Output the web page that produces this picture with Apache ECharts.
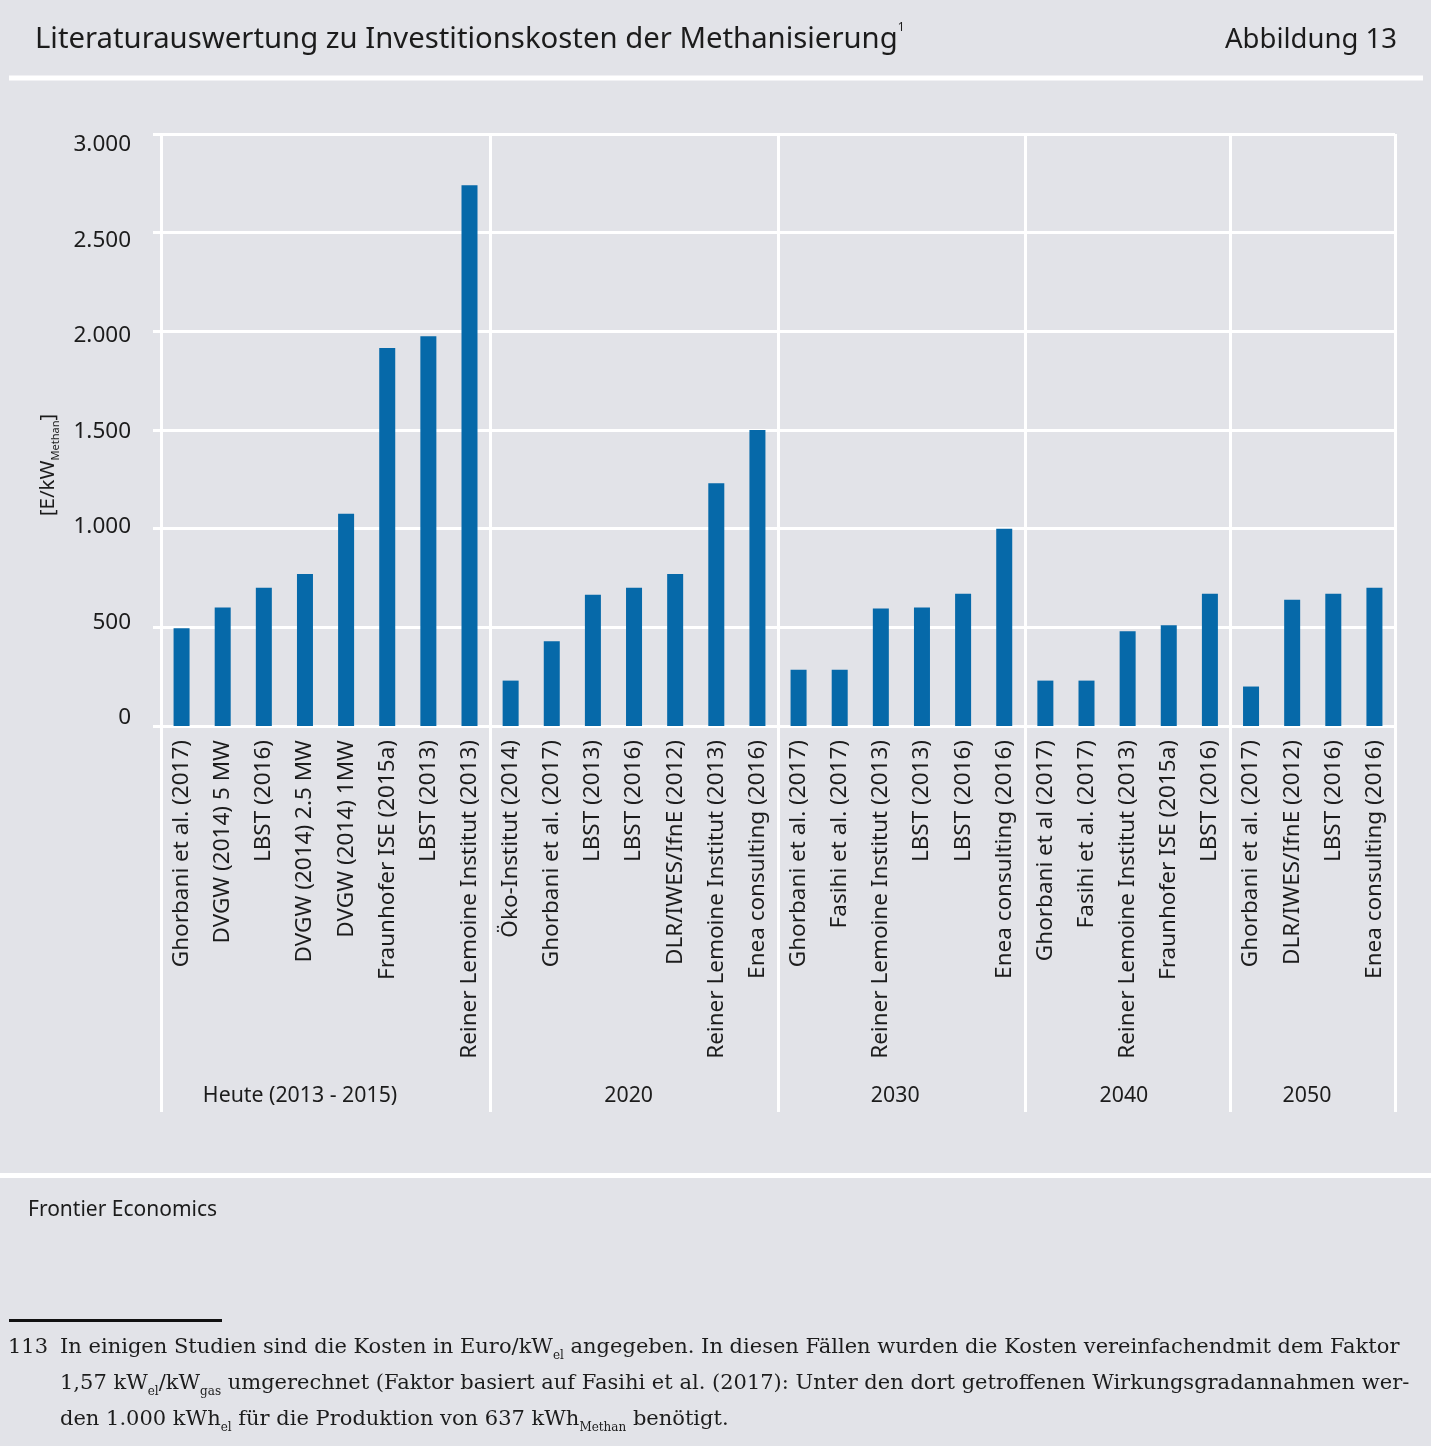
<!DOCTYPE html>
<html><head><meta charset="utf-8">
<script src="https://cdn.jsdelivr.net/npm/echarts@6/dist/echarts.min.js"></script>
<style>html,body{margin:0;padding:0;background:#e2e3e8}#c{width:1431px;height:1446px}</style>
</head><body><div id="c"></div>
<script>
// ---- data ----
const categories = [
  'Ghorbani et al. (2017)','DVGW (2014) 5 MW','LBST (2016)','DVGW (2014) 2.5 MW','DVGW (2014) 1MW','Fraunhofer ISE (2015a)','LBST (2013)','Reiner Lemoine Institut (2013)',
  'Öko-Institut (2014)','Ghorbani et al. (2017)','LBST (2013)','LBST (2016)','DLR/IWES/IfnE (2012)','Reiner Lemoine Institut (2013)','Enea consulting (2016)',
  'Ghorbani et al. (2017)','Fasihi et al. (2017)','Reiner Lemoine Institut (2013)','LBST (2013)','LBST (2016)','Enea consulting (2016)',
  'Ghorbani et al (2017)','Fasihi et al. (2017)','Reiner Lemoine Institut (2013)','Fraunhofer ISE (2015a)','LBST (2016)',
  'Ghorbani et al. (2017)','DLR/IWES/IfnE (2012)','LBST (2016)','Enea consulting (2016)'
];
const values = [
  495, 600, 700, 770, 1075, 1915, 1975, 2740,
  230, 430, 665, 700, 770, 1230, 1500,
  285, 285, 595, 600, 670, 1000,
  230, 230, 480, 510, 670,
  200, 640, 670, 700
];
const groupNames = ['Heute (2013 - 2015)', '2020', '2030', '2040', '2050'];
const groupSizes = [8, 7, 6, 5, 4];
const yTickValues = [0, 500, 1000, 1500, 2000, 2500, 3000];

// ---- derived ----
const boundaries = [0];
groupSizes.forEach(s => boundaries.push(boundaries[boundaries.length - 1] + s));
const nCat = categories.length;
const groupLabelNudge = [-0.62, -0.13, -0.15, -0.09, -0.14];
const groupLabelPos = groupSizes.map((s, i) => (boundaries[i] + boundaries[i + 1]) / 2 + groupLabelNudge[i]);

const FONT = "'Noto Sans', 'Open Sans', sans-serif";
const SERIF = "'DejaVu Serif', 'Liberation Serif', serif";
const TXT = '#1c1c1c';
const BG = '#e2e3e8';
const fmt = v => String(v).replace(/\B(?=(\d{3})+(?!\d))/g, '.');

const chart = echarts.init(document.getElementById('c'), null, {renderer: 'canvas'});
chart.setOption({
  backgroundColor: BG,
  animation: false,
  grid: {left: 161, right: 36, top: 134, bottom: 720, containLabel: false},
  xAxis: [
    {
      type: 'category', data: categories, gridIndex: 0,
      axisLine: {show: false}, axisTick: {show: false},
      axisLabel: {rotate: 90, interval: 0, margin: 14, fontSize: 22.5, fontFamily: FONT, color: TXT}
    },
    {
      type: 'value', min: 0, max: nCat, gridIndex: 0, position: 'bottom',
      axisLine: {show: false},
      axisTick: {show: true, customValues: boundaries, length: 394, inside: false, lineStyle: {color: '#fff', width: 3}},
      splitLine: {show: true, lineStyle: {color: '#fff', width: 3}},
      axisLabel: {
        customValues: groupLabelPos, margin: 359, fontSize: 21.3, fontFamily: FONT, color: TXT,
        formatter: v => { let k = 0, d = 1e9; groupLabelPos.forEach((p, i) => { if (Math.abs(p - v) < d) { d = Math.abs(p - v); k = i; } }); return groupNames[k]; }
      }
    }
  ],
  yAxis: [
    {
      type: 'value', min: 0, max: 3000, interval: 500,
      axisLine: {show: false},
      axisTick: {show: true, length: 8, lineStyle: {color: '#fff', width: 3}},
      axisLabel: {show: false},
      splitLine: {show: true, lineStyle: {color: '#fff', width: 3}}
    },
    {
      type: 'value', min: -41.8, max: 3055, position: 'left',
      axisLine: {show: false}, axisTick: {show: false}, splitLine: {show: false},
      axisLabel: {customValues: yTickValues, margin: 30, fontSize: 22.5, fontFamily: FONT, color: TXT, formatter: v => fmt(v)}
    }
  ],
  series: [{
    type: 'bar', data: values, xAxisIndex: 0, yAxisIndex: 0,
    barWidth: 16, itemStyle: {color: '#0669a9'}, silent: true
  }],
  graphic: [
    {type: 'text', x: 35, y: 40, style: {
      text: '{t|Literaturauswertung zu Investitionskosten der Methanisierung}{sup|1}',
      verticalAlign: 'middle', align: 'left',
      rich: {t: {fontSize: 29.3, fontFamily: FONT, fill: TXT, lineHeight: 36}, sup: {fontSize: 12, fontFamily: FONT, fill: TXT, verticalAlign: 'top', lineHeight: 18}}
    }},
    {type: 'text', x: 1397, y: 40, style: {text: 'Abbildung 13', fontSize: 27.5, fontFamily: FONT, fill: TXT, align: 'right', verticalAlign: 'middle'}},
    {type: 'rect', shape: {x: 9, y: 75.5, width: 1414, height: 5}, style: {fill: '#fff'}},
    {type: 'rect', shape: {x: 0, y: 1173, width: 1431, height: 5}, style: {fill: '#fff'}},
    {type: 'text', x: 48, y: 465, rotation: Math.PI / 2, style: {
      text: '{a|[E/kW}{s|Methan}{a|]}', align: 'center', verticalAlign: 'middle',
      rich: {a: {fontSize: 20.5, fontFamily: FONT, fill: TXT, lineHeight: 26}, s: {fontSize: 11, fontFamily: FONT, fill: TXT, lineHeight: 12, verticalAlign: 'bottom'}}
    }},
    {type: 'text', x: 28, y: 1210, style: {text: 'Frontier Economics', fontSize: 21, fontFamily: FONT, fill: TXT, verticalAlign: 'middle'}},
    {type: 'rect', shape: {x: 9, y: 1319, width: 213, height: 3}, style: {fill: '#111'}},
    {type: 'text', x: 8, y: 1348, style: {text: '113', fontSize: 21, fontFamily: SERIF, fill: TXT, verticalAlign: 'middle'}},
    {type: 'text', x: 60, y: 1348, style: {
      text: '{n|In einigen Studien sind die Kosten in Euro/kW}{s|el}{n| angegeben. In diesen Fällen wurden die Kosten vereinfachendmit dem Faktor}',
      verticalAlign: 'middle',
      rich: {n: {fontSize: 21, fontFamily: SERIF, fill: TXT, lineHeight: 28}, s: {fontSize: 12, fontFamily: SERIF, fill: TXT, lineHeight: 12, verticalAlign: 'bottom'}}
    }},
    {type: 'text', x: 60, y: 1384, style: {
      text: '{n|1,57 kW}{s|el}{n|/kW}{s|gas}{n| umgerechnet (Faktor basiert auf Fasihi et al. (2017): Unter den dort getroffenen Wirkungsgradannahmen wer-}',
      verticalAlign: 'middle',
      rich: {n: {fontSize: 21, fontFamily: SERIF, fill: TXT, lineHeight: 28}, s: {fontSize: 12, fontFamily: SERIF, fill: TXT, lineHeight: 12, verticalAlign: 'bottom'}}
    }},
    {type: 'text', x: 60, y: 1420, style: {
      text: '{n|den 1.000 kWh}{s|el}{n| für die Produktion von 637 kWh}{s|Methan}{n| benötigt.}',
      verticalAlign: 'middle',
      rich: {n: {fontSize: 21, fontFamily: SERIF, fill: TXT, lineHeight: 28}, s: {fontSize: 12, fontFamily: SERIF, fill: TXT, lineHeight: 12, verticalAlign: 'bottom'}}
    }}
  ]
});
</script></body></html>
